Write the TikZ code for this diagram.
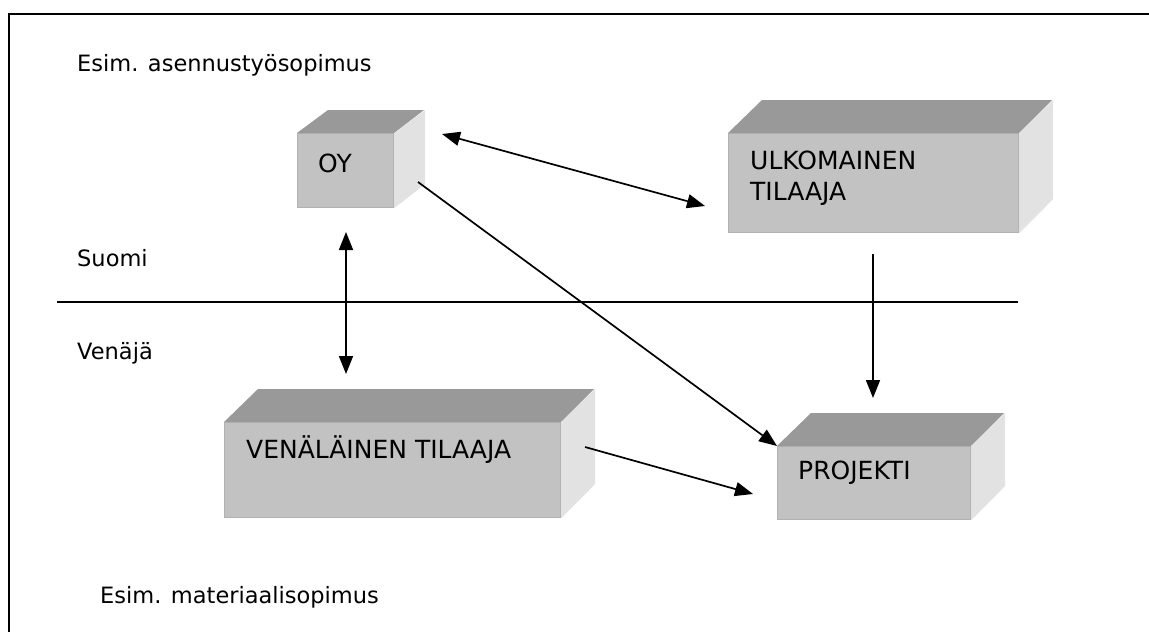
\documentclass[tikz,border=0pt]{standalone}
\usepackage{fontspec}
\setmainfont{DejaVu Sans}
\usetikzlibrary{arrows.meta,calc}

\definecolor{topgray}{HTML}{999999}
\definecolor{frontgray}{HTML}{C2C2C2}
\definecolor{edgegray}{HTML}{B2B2B2}
\definecolor{sidegray}{HTML}{E2E2E2}

\tikzset{
  front/.style={fill=frontgray, draw=edgegray, line width=1.2pt, inner sep=0pt},
  topface/.style={fill=topgray},
  sideface/.style={fill=sidegray},
  boxtext/.style={anchor=west, inner sep=0pt, align=left,
    font=\fontsize{25}{31}\selectfont},
  plain/.style={anchor=west, inner sep=0pt, font=\fontsize{22.5}{26}\selectfont},
  link/.style={line width=1.7pt, -{Triangle[length=18pt,width=14pt]}},
  twoway/.style={line width=1.7pt, {Triangle[length=18pt,width=14pt]}-{Triangle[length=18pt,width=14pt]}},
  border/.style={line width=1.8pt},
}

% solid box: name, x, y (top left of front face), width, height, depth x, depth y
\newcommand\solidbox[7]{%
  \node[front, minimum width=#4pt, minimum height=#5pt, anchor=north west] (#1) at (#2,#3) {};
  \fill[topface] (#1.north west) -- ++(#6,-#7) -- ++(#4,0) -- (#1.north east) -- cycle;
  \fill[sideface] (#1.north east) -- ++(#6,-#7) -- ++(0,#5) -- (#1.south east) -- cycle;
}

\begin{document}
\begin{tikzpicture}[x=1pt,y=-1pt]
\useasboundingbox (0,0) rectangle (1149,632);

% outer frame (runs off the right and bottom edges)
\coordinate (frameTL) at (9,14);
\coordinate (frameTR) at (1160,14);
\coordinate (frameBL) at (9,640);
\draw[border] (frameBL) -- (frameTL) -- (frameTR);

% border between the countries
\coordinate (borderW) at (57,302);
\coordinate (borderE) at (1018,302);
\draw[line width=1.6pt] (borderW) -- (borderE);

% boxes
\solidbox{oy}{297}{133}{96}{74}{31}{23}
\solidbox{ulk}{728}{133}{290}{99}{34}{33}
\solidbox{ven}{224}{422}{336}{95}{34}{33}
\solidbox{proj}{777}{446}{193}{73}{34}{33}

\node[boxtext] (oyT) at ($(oy.north west)+(21,30)$) {OY};
\node[boxtext] (ulkT) at ($(ulk.north west)+(22,45)$) {ULKOMAINEN\\TILAAJA};
\node[boxtext] (venT) at ($(ven.north west)+(22,28)$) {VENÄLÄINEN TILAAJA};
\node[boxtext] (projT) at ($(proj.north west)+(21,27)$) {PROJEKTI};

% side labels
\node[plain] (contract1) at (77,65) {Esim. asennustyösopimus};
\node[plain] (fin) at (77,258) {Suomi};
\node[plain] (rus) at (77,353) {Venäjä};
\node[plain] (contract2) at (100,597) {Esim. materiaalisopimus};

% connector end points
\coordinate (a1) at (442,134);
\coordinate (a2) at (705,206);
\coordinate (b1) at (418,182);
\coordinate (b2) at (777,446);
\coordinate (c1) at (346,232);
\coordinate (c2) at (346,374);
\coordinate (d1) at (873,254);
\coordinate (d2) at (873,398);
\coordinate (e1) at (585,447);
\coordinate (e2) at (753,494);

\draw[twoway] (a1) -- (a2);
\draw[link] (b1) -- (b2);
\draw[twoway] (c1) -- (c2);
\draw[link] (d1) -- (d2);
\draw[link] (e1) -- (e2);
\end{tikzpicture}
\end{document}
